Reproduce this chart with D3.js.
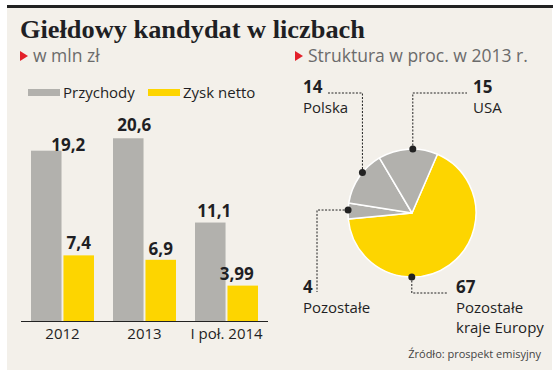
<!DOCTYPE html>
<html>
<head>
<meta charset="utf-8">
<script src="https://cdn.jsdelivr.net/npm/d3@7"></script>
<style>
  body { margin: 0; background: #fff; }
  svg text { font-family: "Open Sans", "Noto Sans", sans-serif; }
</style>
</head>
<body>
<svg width="557" height="377"></svg>
<script>
// bar chart data (mln zł)
var years = ["2012", "2013", "I poł. 2014"];
var seriesNames = ["Przychody", "Zysk netto"];
var revenue = [19.2, 20.6, 11.1];
var netProfit = [7.4, 6.9, 3.99];
var revenueLabels = ["19,2", "20,6", "11,1"];
var profitLabels = ["7,4", "6,9", "3,99"];

// pie data (% in 2013)
var regions = ["Pozostałe kraje Europy", "Pozostałe", "Polska", "USA"];
var shares = [67, 4, 14, 15];

var gray = "#b2b1ad";
var yellow = "#fdd500";
var dark = "#1f1f24";

var svg = d3.select("svg");

// panel
svg.append("rect").attr("x", 7).attr("y", 7).attr("width", 545).attr("height", 363).attr("fill", "#f3f0ea");
svg.append("rect").attr("x", 7).attr("y", 5).attr("width", 546).attr("height", 3).attr("fill", "#222");

svg.append("text")
    .attr("x", 20).attr("y", 38)
    .style("font-family", "'Liberation Serif', serif")
    .style("font-weight", "bold")
    .style("font-size", "26px")
    .attr("textLength", 345)
    .attr("lengthAdjust", "spacingAndGlyphs")
    .attr("fill", dark)
    .text("Giełdowy kandydat w liczbach");

function subtitle(x, label) {
    svg.append("path")
        .attr("d", "M" + x + ",51 L" + (x + 8) + ",56 L" + x + ",61 Z")
        .attr("fill", "#e3202a");
    svg.append("text")
        .attr("x", x + 13).attr("y", 62)
        .style("font-size", "17.5px")
        .attr("fill", "#6b6b6b")
        .text(label);
}
subtitle(20, "w mln zł");
subtitle(295, "Struktura w proc. w 2013 r.");

// ---------- BARS ----------
var y = d3.scaleLinear().domain([0, 24]).range([321, 321 - 24 * 8.87]);
var x0 = d3.scaleBand().domain(years).range([31, 258]).paddingInner(0.232).paddingOuter(0);
var x1 = d3.scaleBand().domain(seriesNames).range([0, x0.bandwidth()]).paddingInner(0.06);
var colors = d3.scaleOrdinal().domain(seriesNames).range([gray, yellow]);

var rows = years.map(function(yr, i) {
    return [
        { year: yr, series: seriesNames[0], value: revenue[i], label: revenueLabels[i] },
        { year: yr, series: seriesNames[1], value: netProfit[i], label: profitLabels[i] }
    ];
});

var groups = svg.selectAll(".grp")
    .data(rows)
    .enter().append("g")
    .attr("class", "grp")
    .attr("transform", function(d) { return "translate(" + x0(d[0].year) + ",0)"; });

groups.selectAll("rect")
    .data(function(d) { return d; })
    .enter().append("rect")
    .attr("x", function(d) { return x1(d.series); })
    .attr("width", x1.bandwidth())
    .attr("y", function(d) { return y(d.value); })
    .attr("height", function(d) { return y(0) - y(d.value); })
    .attr("fill", function(d) { return colors(d.series); });

// label nudges (layout only)
var labelDx = [[22, 0], [6, 0], [4, -6]];
var labelDy = [[0, -6], [-7, -5], [-6, -6]];
groups.selectAll(".val")
    .data(function(d, i) { return d.map(function(e, j) { return { d: e, i: i, j: j }; }); })
    .enter().append("text")
    .attr("class", "val")
    .attr("text-anchor", "middle")
    .attr("x", function(o) { return x1(o.d.series) + x1.bandwidth() / 2 + labelDx[o.i][o.j]; })
    .attr("y", function(o) { return y(o.d.value) + labelDy[o.i][o.j]; })
    .style("font-size", "17px")
    .style("font-weight", "bold")
    .attr("fill", dark)
    .text(function(o) { return o.d.label; });

var xAxis = svg.append("g")
    .attr("transform", "translate(0,321)")
    .call(d3.axisBottom(x0).tickSize(0).tickPadding(7));
xAxis.select(".domain").attr("d", "M21,0.5H268").attr("stroke", "#222").attr("stroke-width", 1.2);
xAxis.selectAll("text")
    .style("font-family", "'Open Sans', sans-serif")
    .style("font-size", "15px")
    .attr("fill", dark);

// legend
var legend = svg.selectAll(".leg")
    .data(seriesNames)
    .enter().append("g")
    .attr("class", "leg")
    .attr("transform", function(d, i) { return "translate(" + (28 + i * 120) + ",0)"; });
legend.append("rect")
    .attr("x", 0).attr("y", 89).attr("width", 32).attr("height", 7)
    .attr("fill", function(d) { return colors(d); });
legend.append("text")
    .attr("x", 35).attr("y", 98)
    .style("font-size", "15px")
    .attr("fill", dark)
    .text(function(d) { return d; });

// ---------- PIE ----------
var cx = 412, cy = 213, r = 64;
var start = 23.4 * Math.PI / 180;
var pie = d3.pie().sort(null).value(function(d) { return d; })
    .startAngle(start).endAngle(start + 2 * Math.PI);
var arc = d3.arc().innerRadius(0).outerRadius(r);
var arcs = pie(shares);

var pg = svg.append("g").attr("transform", "translate(" + cx + "," + cy + ")");
pg.selectAll("path")
    .data(arcs)
    .enter().append("path")
    .attr("d", arc)
    .attr("fill", function(d, i) { return i === 0 ? yellow : gray; })
    .attr("stroke", "#fff")
    .attr("stroke-width", 1.5)
    .attr("stroke-linejoin", "round");

// callouts: anchor point on rim, leader path, label
function rimPoint(d, frac) {
    var a = d.startAngle + (d.endAngle - d.startAngle) * frac;
    return [cx + r * Math.sin(a), cy - r * Math.cos(a)];
}
var callouts = [
    { i: 0, frac: 0.65, path: function(p) { return [[p[0], p[1]], [p[0], 293], [448, 293]]; }, tx: 456, ty: 293, lines: ["Pozostałe", "kraje Europy"] },
    { i: 1, frac: 0.56, path: function(p) { return [[p[0], p[1]], [317, p[1]], [317, 292]]; }, tx: 303, ty: 293, lines: ["Pozostałe"] },
    { i: 2, frac: 0.6, path: function(p) { return [[p[0], p[1]], [p[0], 93], [328, 93]]; }, tx: 303, ty: 93, lines: ["Polska"] },
    { i: 3, frac: 0.58, path: function(p) { return [[p[0], p[1]], [p[0], 93], [467, 93]]; }, tx: 473, ty: 93, lines: ["USA"] }
];

callouts.forEach(function(c) {
    var p = rimPoint(arcs[c.i], c.frac);
    svg.append("path")
        .attr("d", d3.line()(c.path(p)))
        .attr("fill", "none")
        .attr("stroke", "#222")
        .attr("stroke-width", 1)
        .attr("stroke-dasharray", "2,1.5");
    svg.append("circle").attr("cx", p[0]).attr("cy", p[1]).attr("r", 3.5).attr("fill", "#222");
    svg.append("text")
        .attr("x", c.tx).attr("y", c.ty)
        .style("font-size", "17px").style("font-weight", "bold")
        .attr("fill", dark)
        .text(shares[c.i]);
    c.lines.forEach(function(line, k) {
        svg.append("text")
            .attr("x", c.tx).attr("y", c.ty + 20 + k * 20)
            .style("font-size", "15px")
            .attr("fill", dark)
            .text(line);
    });
});

svg.append("text")
    .attr("x", 541).attr("y", 358)
    .attr("text-anchor", "end")
    .style("font-size", "11px")
    .attr("fill", "#444")
    .text("Źródło: prospekt emisyjny");
</script>
</body>
</html>
